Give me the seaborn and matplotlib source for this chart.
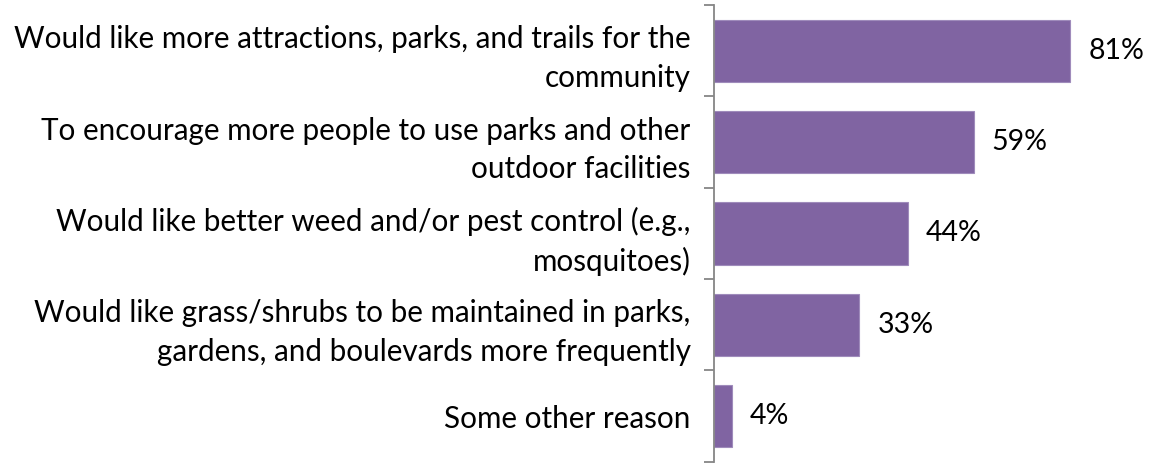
import matplotlib
matplotlib.use("Agg")
import matplotlib.pyplot as plt
import seaborn as sns
import pandas as pd

# Reasons and share of respondents
reasons = [
    "Would like more attractions, parks, and trails for the\ncommunity",
    "To encourage more people to use parks and other\noutdoor facilities",
    "Would like better weed and/or pest control (e.g.,\nmosquitoes)",
    "Would like grass/shrubs to be maintained in parks,\ngardens, and boulevards more frequently",
    "Some other reason",
]
percents = [81, 59, 44, 33, 4]

df = pd.DataFrame({"reason": reasons, "pct": percents})

sns.set_style("white")
plt.rcParams["font.family"] = ["Lato", "DejaVu Sans"]

fig = plt.figure(figsize=(11.54, 4.66), dpi=100)
ax = fig.add_axes([0.619, 0.009, 0.381, 0.980])

sns.barplot(data=df, y="reason", x="pct", orient="h", color="#8064A2",
            saturation=1, width=0.68, edgecolor="#9F8BBB", linewidth=0.8, ax=ax)

ax.set_xlim(0, 100)
ax.set_ylim(len(reasons) - 0.5, -0.5)
ax.set_xlabel("")
ax.set_ylabel("")
ax.set_xticks([])

for s in ["top", "right", "bottom"]:
    ax.spines[s].set_visible(False)
ax.spines["left"].set_color("#868686")
ax.spines["left"].set_linewidth(1.3)

# labels at category centres, tick marks at the boundaries
ax.tick_params(axis="y", which="major", left=False, length=0, pad=17,
               labelsize=21.3, labelcolor="black")
for lbl in ax.get_yticklabels():
    lbl.set_linespacing(1.45)
ax.set_yticks([i - 0.5 for i in range(len(reasons) + 1)], minor=True)
ax.tick_params(axis="y", which="minor", left=True, length=7, width=1.3,
               color="#868686", direction="out")

ax.bar_label(ax.containers[0], labels=[f"{p}%" for p in percents],
             padding=13, fontsize=20.5, color="black")

fig.savefig("out.png", dpi=100)
